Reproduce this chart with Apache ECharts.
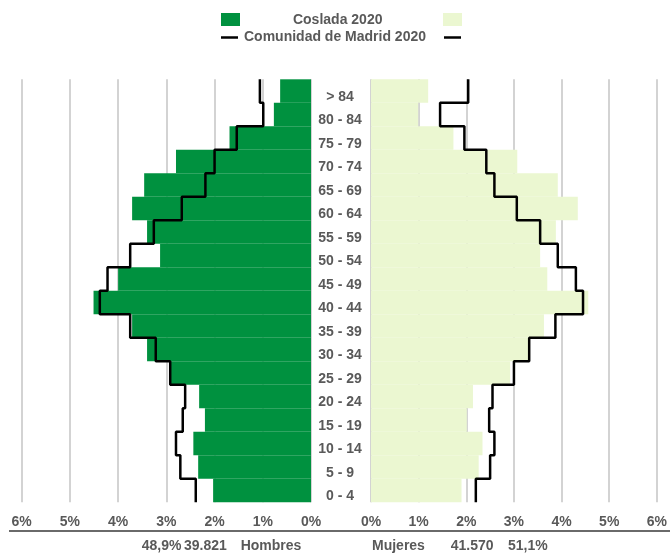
<!DOCTYPE html>
<html>
<head>
<meta charset="utf-8">
<script src="https://cdn.jsdelivr.net/npm/echarts@6/dist/echarts.min.js"></script>
<style>
html,body{margin:0;padding:0;background:#fff;}
#chart{width:670px;height:553px;}
</style>
</head>
<body>
<div id="chart"></div>
<script>
// Data (bottom to top)
const categories = ['0 - 4','5 - 9','10 - 14','15 - 19','20 - 24','25 - 29','30 - 34','35 - 39','40 - 44','45 - 49','50 - 54','55 - 59','60 - 64','65 - 69','70 - 74','75 - 79','80 - 84','> 84'];
const menCoslada   = [2.03, 2.34, 2.44, 2.20, 2.32, 2.92, 3.40, 3.71, 4.51, 4.00, 3.13, 3.40, 3.71, 3.46, 2.80, 1.69, 0.77, 0.64];
const menMadrid    = [2.39, 2.71, 2.80, 2.66, 2.61, 2.92, 3.22, 3.75, 4.38, 4.22, 3.75, 3.26, 2.68, 2.19, 2.00, 1.54, 0.99, 1.06];
const womenCoslada = [1.90, 2.26, 2.34, 2.01, 2.14, 2.92, 3.30, 3.63, 4.56, 3.70, 3.55, 3.88, 4.34, 3.92, 3.07, 1.73, 0.99, 1.20];
const womenMadrid  = [2.20, 2.50, 2.59, 2.48, 2.55, 3.00, 3.32, 3.87, 4.45, 4.30, 3.92, 3.55, 3.06, 2.59, 2.42, 1.96, 1.45, 2.04];
const tickValues = [0, 1, 2, 3, 4, 5, 6];
const menSummary = ['48,9%', '39.821', 'Hombres'];
const womenSummary = ['Mujeres', '41.570', '51,1%'];
const legendLabels = ['Coslada 2020', 'Comunidad de Madrid 2020'];

const DARK = '#00913f', LIGHT = '#ebf7d1', GRID = '#c4c4c4', TXT = '#595959';
const FONT = 'Liberation Sans, Arial, sans-serif';

function stepData(vals) {
  const out = [];
  vals.forEach((v, i) => { out.push([v, i]); out.push([v, i + 1]); });
  return out;
}

const chart = echarts.init(document.getElementById('chart'), null, {renderer: 'canvas'});
const gTop = 79.3, gH = 423;
const xCommon = {
  type: 'value', min: tickValues[0], max: tickValues[tickValues.length - 1], interval: 1,
  axisLine: {show: false}, axisTick: {show: false},
  splitLine: {show: true, lineStyle: {color: GRID, width: 1.5}},
  axisLabel: {formatter: '{value}%', color: TXT, fontSize: 14, fontWeight: 'bold', fontFamily: FONT, margin: 13}
};

chart.setOption({
  animation: false,
  grid: [
    {left: 21.7, width: 289.3, top: gTop, height: gH},
    {left: 371, width: 289.3, top: gTop, height: gH}
  ],
  xAxis: [
    Object.assign({gridIndex: 0, inverse: true}, xCommon),
    Object.assign({gridIndex: 1}, xCommon)
  ],
  yAxis: [
    {type: 'category', gridIndex: 0, data: categories, position: 'right',
     axisLine: {show: false}, axisTick: {show: false},
     axisLabel: {align: 'center', verticalAlign: 'top', lineHeight: 12, margin: 29, color: TXT, fontSize: 14, fontWeight: 'bold', fontFamily: FONT}},
    {type: 'category', gridIndex: 1, data: categories,
     axisLine: {show: false}, axisTick: {show: false}, axisLabel: {show: false}},
    {type: 'value', gridIndex: 0, min: 0, max: categories.length, show: false},
    {type: 'value', gridIndex: 1, min: 0, max: categories.length, show: false}
  ],
  series: [
    {type: 'bar', name: 'Coslada 2020 Hombres', xAxisIndex: 0, yAxisIndex: 0, data: menCoslada,
     barCategoryGap: '0%', itemStyle: {color: DARK}},
    {type: 'bar', name: 'Coslada 2020 Mujeres', xAxisIndex: 1, yAxisIndex: 1, data: womenCoslada,
     barCategoryGap: '0%', itemStyle: {color: LIGHT}},
    {type: 'line', name: 'Madrid Hombres', xAxisIndex: 0, yAxisIndex: 2, data: stepData(menMadrid),
     symbol: 'none', lineStyle: {color: '#000', width: 2.5}, z: 5},
    {type: 'line', name: 'Madrid Mujeres', xAxisIndex: 1, yAxisIndex: 3, data: stepData(womenMadrid),
     symbol: 'none', lineStyle: {color: '#000', width: 2.5}, z: 5}
  ],
  graphic: [
    {type: 'rect', shape: {x: 221, y: 13, width: 19, height: 13}, style: {fill: DARK}},
    {type: 'rect', shape: {x: 443, y: 13, width: 19, height: 13}, style: {fill: LIGHT}},
    {type: 'line', shape: {x1: 221, y1: 37.5, x2: 238, y2: 37.5}, style: {stroke: '#000', lineWidth: 2.5}},
    {type: 'line', shape: {x1: 444, y1: 37.5, x2: 461, y2: 37.5}, style: {stroke: '#000', lineWidth: 2.5}},
    {type: 'text', x: 337.7, y: 20, style: {text: legendLabels[0], fill: TXT, font: 'bold 14px ' + FONT, textAlign: 'center', textVerticalAlign: 'middle'}},
    {type: 'text', x: 335, y: 37.5, style: {text: legendLabels[1], fill: TXT, font: 'bold 14px ' + FONT, textAlign: 'center', textVerticalAlign: 'middle'}},
    {type: 'line', shape: {x1: 9, y1: 531, x2: 670, y2: 531}, style: {stroke: '#6a6a6a', lineWidth: 2}},
    {type: 'text', x: 141.7, y: 546.5, style: {text: menSummary[0], fill: TXT, font: 'bold 14px ' + FONT, textAlign: 'left', textVerticalAlign: 'middle'}},
    {type: 'text', x: 184, y: 546.5, style: {text: menSummary[1], fill: TXT, font: 'bold 14px ' + FONT, textAlign: 'left', textVerticalAlign: 'middle'}},
    {type: 'text', x: 240.7, y: 546.5, style: {text: menSummary[2], fill: TXT, font: 'bold 14px ' + FONT, textAlign: 'left', textVerticalAlign: 'middle'}},
    {type: 'text', x: 372, y: 546.5, style: {text: womenSummary[0], fill: TXT, font: 'bold 14px ' + FONT, textAlign: 'left', textVerticalAlign: 'middle'}},
    {type: 'text', x: 450.7, y: 546.5, style: {text: womenSummary[1], fill: TXT, font: 'bold 14px ' + FONT, textAlign: 'left', textVerticalAlign: 'middle'}},
    {type: 'text', x: 508, y: 546.5, style: {text: womenSummary[2], fill: TXT, font: 'bold 14px ' + FONT, textAlign: 'left', textVerticalAlign: 'middle'}}
  ]
});
</script>
</body>
</html>
